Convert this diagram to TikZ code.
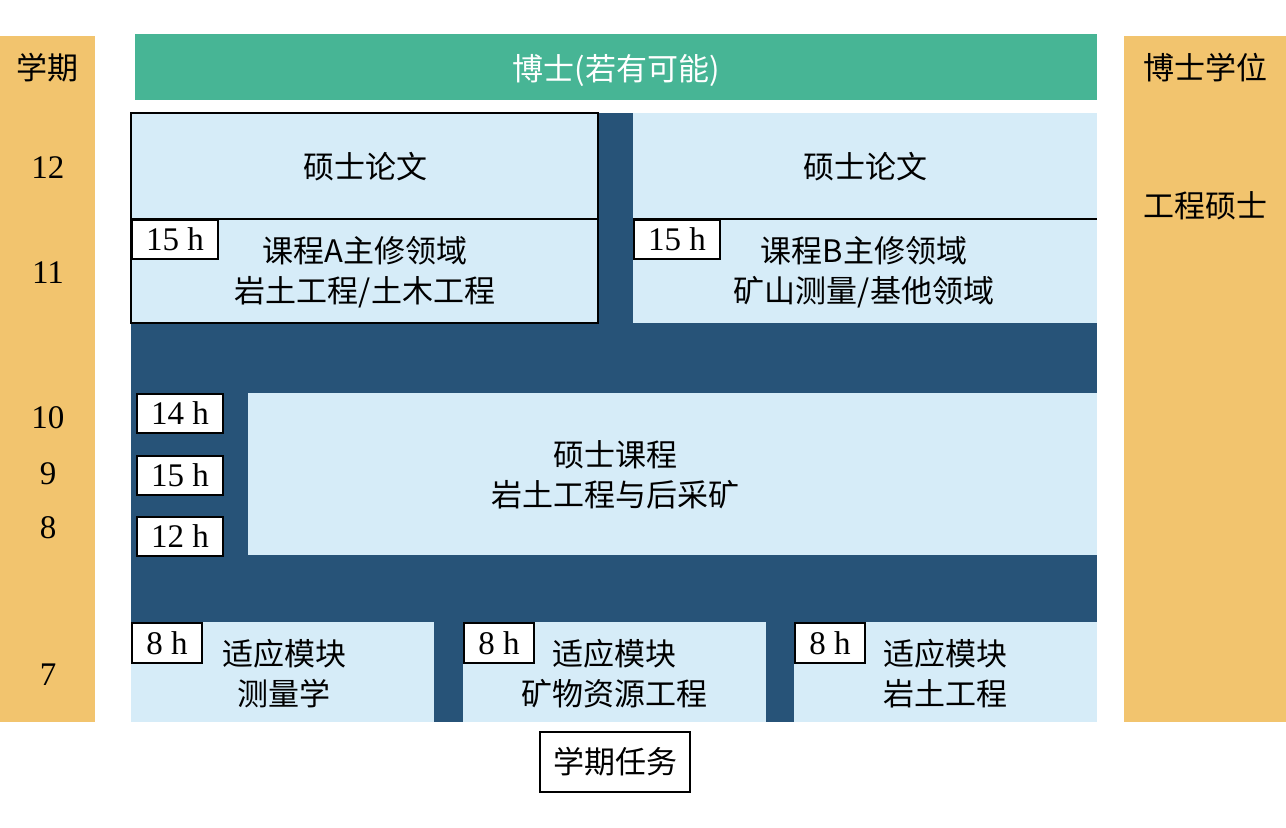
\documentclass[tikz,border=0pt]{standalone}
\usepackage{fontspec}
\setmainfont{Liberation Serif}
\newfontfamily\cjk{Noto Sans CJK SC}
\usetikzlibrary{positioning}
\definecolor{semorange}{HTML}{F2C46E}
\definecolor{phdgreen}{HTML}{47B595}
\definecolor{navy}{HTML}{275378}
\definecolor{paleblue}{HTML}{D6ECF8}
\newcommand{\txtsize}{\fontsize{15.5}{20}\selectfont}
\newcommand{\numsize}{\fontsize{16.5}{20}\selectfont}

\begin{document}
\begin{tikzpicture}[x=0.5pt,y=-0.5pt,
    every node/.style={font=\txtsize},
    cn/.style={font=\txtsize\cjk, align=center, inner sep=0pt},
    num/.style={font=\numsize, inner sep=0pt},
    hourbox/.style={draw=black, line width=1pt, fill=white, font=\numsize,
                    minimum width=43pt, minimum height=19.5pt, inner sep=0pt},
    smallhour/.style={hourbox, minimum width=35pt, minimum height=20pt}]
    \useasboundingbox (0,0) rectangle (1286,828);
    %\draw[help lines] (0,0) grid[step=100] (1286,828);
    % side columns
    \fill[semorange] (0,36) rectangle (95,722);
    \fill[semorange] (1124,36) rectangle (1286,722);
    % top bar
    \fill[phdgreen] (135,34) rectangle (1097,100);
    \node[cn, text=white] (phd) at (616,70) {博士(若有可能)};
    % dark background
    \fill[navy] (131,113) rectangle (1097,722);
    % upper boxes
    \fill[paleblue] (131,113) rectangle (598,323);
    \draw[line width=1pt] (131,113) rectangle (598,323);
    \draw[line width=1pt] (131,219) -- (598,219);
    \fill[paleblue] (633,113) rectangle (1097,323);
    \draw[line width=1pt] (633,219) -- (1097,219);
    \node[cn] (thesisA) at (365,167) {硕士论文};
    \node[cn] (thesisB) at (865,167) {硕士论文};
    \node[cn] (majorA) at (365,272) {课程A主修领域\\岩土工程/土木工程};
    \node[cn] (majorB) at (864,272) {课程B主修领域\\矿山测量/基他领域};
    \node[hourbox, anchor=north west] (hA) at (131,219) {15 h};
    \node[hourbox, anchor=north west] (hB) at (633,219) {15 h};
    % middle box
    \fill[paleblue] (248,393) rectangle (1097,555);
    \node[cn] (master) at (615,475) {硕士课程\\岩土工程与后采矿};
    \node[hourbox, anchor=north west] (h10) at (136,393) {14 h};
    \node[hourbox, anchor=north west] (h9) at (136,455) {15 h};
    \node[hourbox, anchor=north west] (h8) at (136,516) {12 h};
    % lower boxes
    \fill[paleblue] (131,622) rectangle (434,722);
    \fill[paleblue] (463,622) rectangle (766,722);
    \fill[paleblue] (794,622) rectangle (1097,722);
    \node[cn] (adapt1) at (284,674) {适应模块\\测量学};
    \node[cn] (adapt2) at (614,674) {适应模块\\矿物资源工程};
    \node[cn] (adapt3) at (945,674) {适应模块\\岩土工程};
    \node[smallhour, anchor=north west] (h7a) at (131,622) {8 h};
    \node[smallhour, anchor=north west] (h7b) at (463,622) {8 h};
    \node[smallhour, anchor=north west] (h7c) at (794,622) {8 h};
    % task label
    \node[cn, draw=black, line width=1pt, minimum width=75pt, minimum height=30pt]
        (task) at (615,762) {学期任务};
    % semester numbers
    \node[cn] (semhead) at (48,68) {学期};
    \node[num] (s12) at (48,168) {12};
    \node[num] (s11) at (48,273) {11};
    \node[num] (s10) at (48,418) {10};
    \node[num] (s9) at (48,474) {9};
    \node[num] (s8) at (48,528) {8};
    \node[num] (s7) at (48,675) {7};
    % degrees
    \node[cn] (degphd) at (1205,68) {博士学位};
    \node[cn] (degmeng) at (1205,206) {工程硕士};
\end{tikzpicture}
\end{document}
